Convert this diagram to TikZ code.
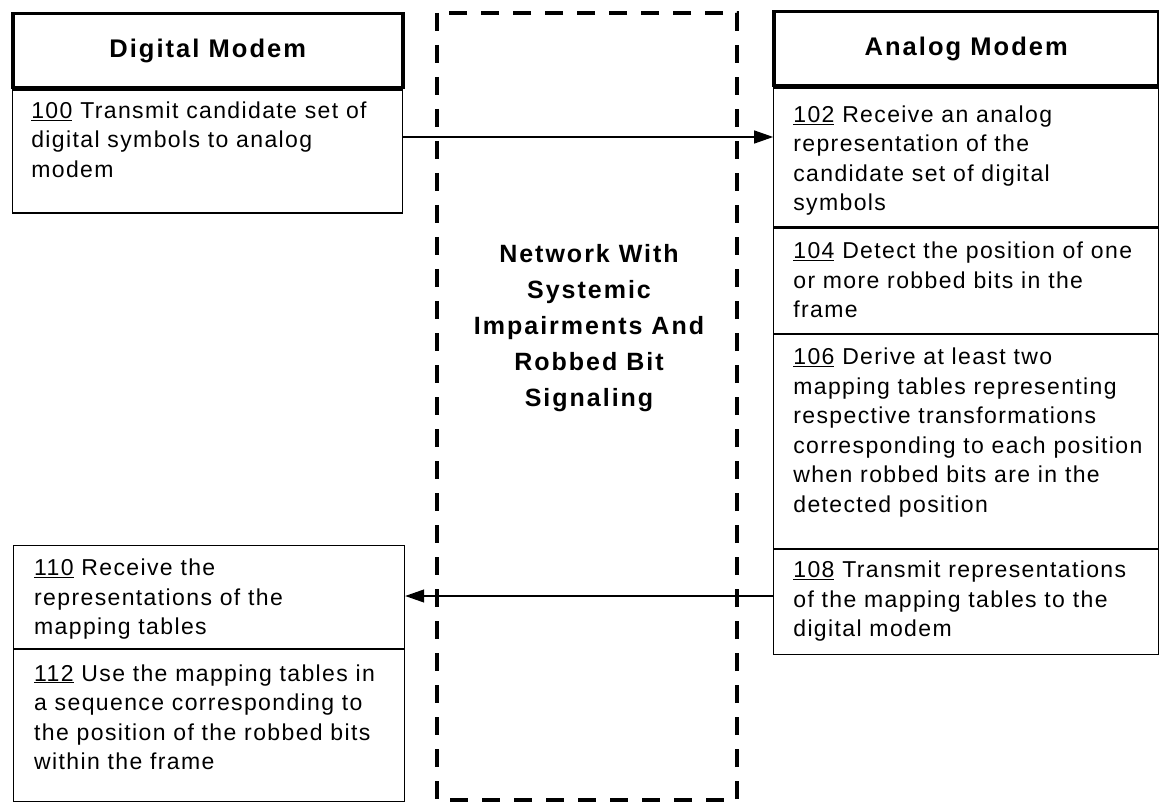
\documentclass[tikz,border=0pt]{standalone}
\usepackage{fontspec}
\setmainfont{Liberation Sans}[LetterSpace=6]
\newfontfamily\headfont{Liberation Sans}[LetterSpace=8]
\usetikzlibrary{arrows.meta,positioning}

\tikzset{
  head/.style={draw, line width=3.5pt, inner sep=0pt, anchor=north west,
    font=\fontsize{25.5}{28}\headfont\bfseries},
  stepbox/.style={draw, line width=1.2pt, inner sep=0pt},
  steptext/.style={anchor=north west, align=left, inner sep=0pt,
    font=\fontsize{23}{29.5}\selectfont},
  netline/.style={line width=4pt, dash pattern=on 18pt off 14pt},
  flow/.style={line width=1.2pt, -{Triangle[length=19pt,width=13pt]}}
}

\begin{document}
\begin{tikzpicture}[x=1pt,y=-1pt]
    \fill[white] (0,0) rectangle (1159,810);
    \useasboundingbox (0,0) rectangle (1159,810);

    % Network between the modems
    \draw[netline] (437,13) rectangle (737,800);
    \node[align=center, font=\fontsize{25}{36}\headfont\bfseries] (net) at (589,328)
      {Network With\\Systemic\\Impairments And\\Robbed Bit\\Signaling};

    % Digital modem
    \node[head, minimum width=390pt, minimum height=74pt] (dhead) at (11,12) {Digital Modem};
    \node[stepbox, minimum width=390pt, minimum height=123pt, below=0pt of dhead] (b100) {};
    \node[stepbox, anchor=north west, minimum width=391pt, minimum height=103pt] (b110) at (13,545) {};
    \node[stepbox, minimum width=391pt, minimum height=152pt, below=0pt of b110] (b112) {};

    % Analog modem
    \node[head, minimum width=385pt, minimum height=74pt] (ahead) at (772,10) {Analog Modem};
    \node[stepbox, minimum width=385pt, minimum height=139pt, below=0pt of ahead] (b102) {};
    \node[stepbox, minimum width=385pt, minimum height=105pt, below=0pt of b102] (b104) {};
    \node[stepbox, minimum width=385pt, minimum height=214pt, below=0pt of b104] (b106) {};
    \node[stepbox, minimum width=385pt, minimum height=105pt, below=0pt of b106] (b108) {};

    % Step texts
    \node[steptext] (t100) at ([shift={(19,12)}]b100.north west)
      {\underline{100} Transmit candidate set of\\digital symbols to analog\\modem};
    \node[steptext] (t110) at ([shift={(21,14)}]b110.north west)
      {\underline{110} Receive the\\representations of the\\mapping tables};
    \node[steptext] (t112) at ([shift={(21,15)}]b112.north west)
      {\underline{112} Use the mapping tables in\\a sequence corresponding to\\the position of the robbed bits\\within the frame};
    \node[steptext] (t102) at ([shift={(20,18)}]b102.north west)
      {\underline{102} Receive an analog\\representation of the\\candidate set of digital\\symbols};
    \node[steptext] (t104) at ([shift={(20,14)}]b104.north west)
      {\underline{104} Detect the position of one\\or more robbed bits in the\\frame};
    \node[steptext] (t106) at ([shift={(20,14)}]b106.north west)
      {\underline{106} Derive at least two\\mapping tables representing\\respective transformations\\corresponding to each position\\when robbed bits are in the\\detected position};
    \node[steptext] (t108) at ([shift={(20,12)}]b108.north west)
      {\underline{108} Transmit representations\\of the mapping tables to the\\digital modem};

    % Messages across the network
    \coordinate (m1) at (0,137);
    \coordinate (m2) at (0,596);
    \draw[flow] (b100.east |- m1) -- (b102.west |- m1);
    \draw[flow] (b108.west |- m2) -- (b110.east |- m2);
\end{tikzpicture}
\end{document}
